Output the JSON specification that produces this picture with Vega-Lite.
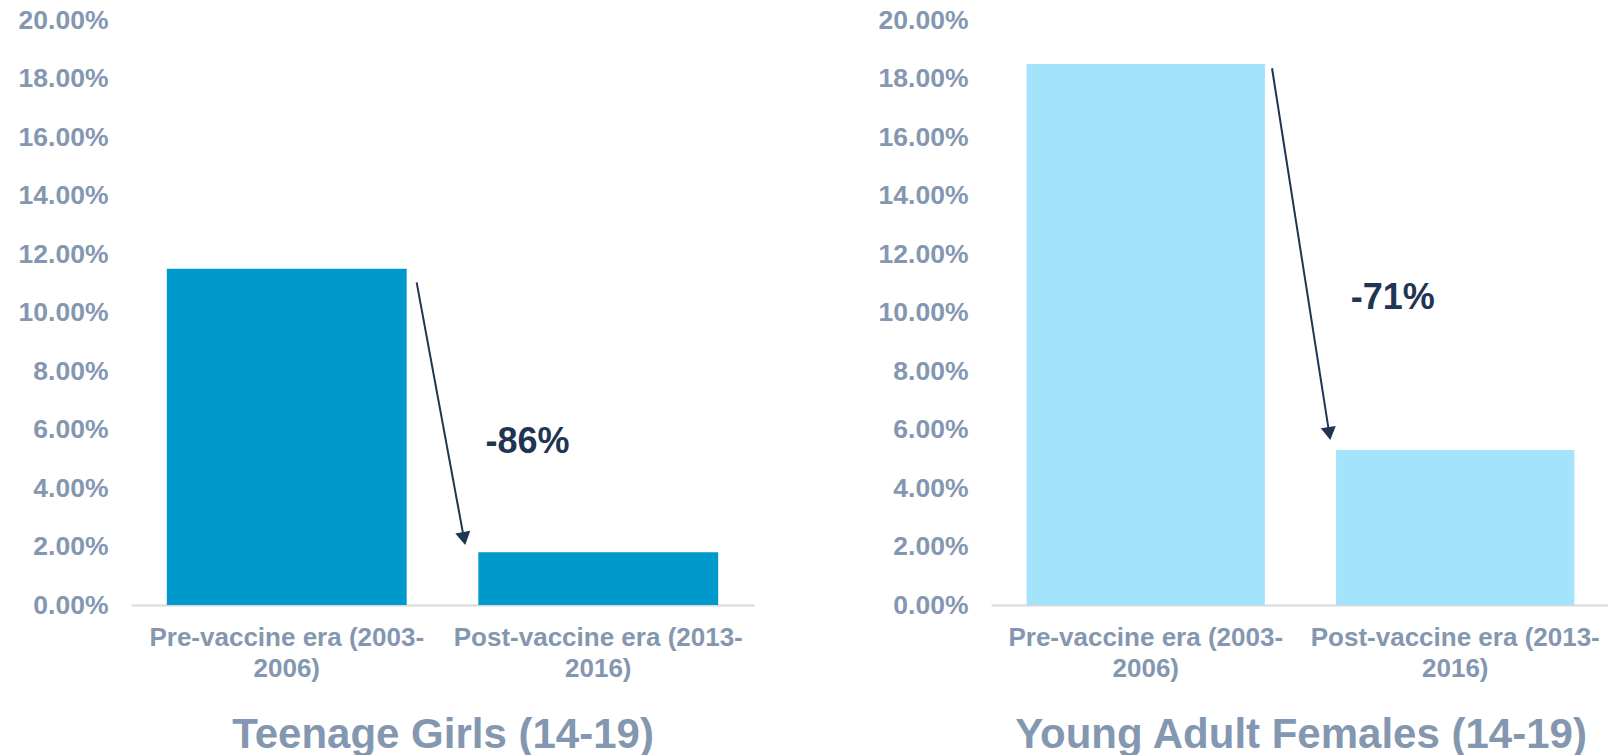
{
  "$schema": "https://vega.github.io/schema/vega-lite/v6.json",
  "padding": {"left": 18, "top": 7, "right": 0, "bottom": 0},
  "background": "white",
  "config": {
    "view": {"stroke": null},
    "font": "Liberation Sans",
    "concat": {"spacing": 124},
    "axis": {"grid": false, "ticks": false}
  },
  "datasets": {
    "bars": [
      {"group": "Teenage Girls (14-19)", "era": "Pre-vaccine era (2003-2006)", "rate": 0.115},
      {"group": "Teenage Girls (14-19)", "era": "Post-vaccine era (2013-2016)", "rate": 0.018},
      {"group": "Young Adult Females (14-19)", "era": "Pre-vaccine era (2003-2006)", "rate": 0.185},
      {"group": "Young Adult Females (14-19)", "era": "Post-vaccine era (2013-2016)", "rate": 0.053}
    ],
    "arrows": [
      {"group": "Teenage Girls (14-19)", "x0": 0.917, "y0": 0.1103, "x1": 1.069, "y1": 0.0227, "angle": -10.4},
      {"group": "Young Adult Females (14-19)", "x0": 0.908, "y0": 0.1835, "x1": 1.093, "y1": 0.0586, "angle": -8.9}
    ],
    "notes": [
      {"group": "Teenage Girls (14-19)", "x": 1.273, "y": 0.0556, "label": "-86%"},
      {"group": "Young Adult Females (14-19)", "x": 1.298, "y": 0.1051, "label": "-71%"}
    ]
  },
  "hconcat": [
    {
      "width": 623,
      "height": 585,
      "resolve": {"scale": {"x": "independent"}},
      "layer": [
        {
          "data": {"name": "bars"},
          "transform": [{"filter": "datum.group == 'Teenage Girls (14-19)'"}],
          "mark": {"type": "bar", "color": "#0099CC"},
          "encoding": {
            "x": {"field": "era", "type": "nominal", "sort": null,
              "scale": {"paddingInner": 0.23, "paddingOuter": 0.115},
              "axis": {"title": "Teenage Girls (14-19)", "titleFontSize": 42, "titleColor": "#8497B0", "titleFontWeight": "bold", "titlePadding": 33,
                "labelAngle": 0, "labelFontSize": 26, "labelColor": "#8497B0", "labelFontWeight": "bold", "labelPadding": 19, "labelLineHeight": 31, "labelLimit": 500,
                "labelExpr": "datum.value == 'Pre-vaccine era (2003-2006)' ? ['Pre-vaccine era (2003-', '2006)'] : ['Post-vaccine era (2013-', '2016)']",
                "domainColor": "#D9D9D9", "domainWidth": 2}},
            "y": {"field": "rate", "type": "quantitative",
              "scale": {"domain": [0, 0.2], "nice": false},
              "axis": {"title": null, "format": ".2%", "values": [0, 0.02, 0.04, 0.06, 0.08, 0.1, 0.12, 0.14, 0.16, 0.18, 0.2],
                "domain": false, "labelFontSize": 26.5, "labelColor": "#8497B0", "labelFontWeight": "bold", "labelPadding": 23}}
          }
        },
        {
          "data": {"name": "arrows"},
          "transform": [{"filter": "datum.group == 'Teenage Girls (14-19)'"}],
          "mark": {"type": "rule", "color": "#1F3552", "strokeWidth": 2},
          "encoding": {
            "x": {"field": "x0", "type": "quantitative", "scale": {"domain": [0, 2], "nice": false, "zero": false}, "axis": null},
            "x2": {"field": "x1"},
            "y": {"field": "y0", "type": "quantitative"},
            "y2": {"field": "y1"}
          }
        },
        {
          "data": {"name": "arrows"},
          "transform": [{"filter": "datum.group == 'Teenage Girls (14-19)'"}],
          "mark": {"type": "point", "shape": "triangle-down", "filled": true, "color": "#1F3552", "size": 230, "opacity": 1},
          "encoding": {
            "x": {"field": "x1", "type": "quantitative", "scale": {"domain": [0, 2], "nice": false, "zero": false}, "axis": null},
            "y": {"field": "y1", "type": "quantitative"},
            "angle": {"field": "angle", "type": "quantitative", "scale": null}
          }
        },
        {
          "data": {"name": "notes"},
          "transform": [{"filter": "datum.group == 'Teenage Girls (14-19)'"}],
          "mark": {"type": "text", "color": "#1F3552", "fontSize": 36, "fontWeight": "bold", "align": "center", "baseline": "middle"},
          "encoding": {
            "x": {"field": "x", "type": "quantitative", "scale": {"domain": [0, 2], "nice": false, "zero": false}, "axis": null},
            "y": {"field": "y", "type": "quantitative"},
            "text": {"field": "label"}
          }
        }
      ]
    },
    {
      "width": 619,
      "height": 585,
      "resolve": {"scale": {"x": "independent"}},
      "layer": [
        {
          "data": {"name": "bars"},
          "transform": [{"filter": "datum.group == 'Young Adult Females (14-19)'"}],
          "mark": {"type": "bar", "color": "#A3E3FC"},
          "encoding": {
            "x": {"field": "era", "type": "nominal", "sort": null,
              "scale": {"paddingInner": 0.23, "paddingOuter": 0.115},
              "axis": {"title": "Young Adult Females (14-19)", "titleFontSize": 42, "titleColor": "#8497B0", "titleFontWeight": "bold", "titlePadding": 33,
                "labelAngle": 0, "labelFontSize": 26, "labelColor": "#8497B0", "labelFontWeight": "bold", "labelPadding": 19, "labelLineHeight": 31, "labelLimit": 500,
                "labelExpr": "datum.value == 'Pre-vaccine era (2003-2006)' ? ['Pre-vaccine era (2003-', '2006)'] : ['Post-vaccine era (2013-', '2016)']",
                "domainColor": "#D9D9D9", "domainWidth": 2}},
            "y": {"field": "rate", "type": "quantitative",
              "scale": {"domain": [0, 0.2], "nice": false},
              "axis": {"title": null, "format": ".2%", "values": [0, 0.02, 0.04, 0.06, 0.08, 0.1, 0.12, 0.14, 0.16, 0.18, 0.2],
                "domain": false, "labelFontSize": 26.5, "labelColor": "#8497B0", "labelFontWeight": "bold", "labelPadding": 23}}
          }
        },
        {
          "data": {"name": "arrows"},
          "transform": [{"filter": "datum.group == 'Young Adult Females (14-19)'"}],
          "mark": {"type": "rule", "color": "#1F3552", "strokeWidth": 2},
          "encoding": {
            "x": {"field": "x0", "type": "quantitative", "scale": {"domain": [0, 2], "nice": false, "zero": false}, "axis": null},
            "x2": {"field": "x1"},
            "y": {"field": "y0", "type": "quantitative"},
            "y2": {"field": "y1"}
          }
        },
        {
          "data": {"name": "arrows"},
          "transform": [{"filter": "datum.group == 'Young Adult Females (14-19)'"}],
          "mark": {"type": "point", "shape": "triangle-down", "filled": true, "color": "#1F3552", "size": 230, "opacity": 1},
          "encoding": {
            "x": {"field": "x1", "type": "quantitative", "scale": {"domain": [0, 2], "nice": false, "zero": false}, "axis": null},
            "y": {"field": "y1", "type": "quantitative"},
            "angle": {"field": "angle", "type": "quantitative", "scale": null}
          }
        },
        {
          "data": {"name": "notes"},
          "transform": [{"filter": "datum.group == 'Young Adult Females (14-19)'"}],
          "mark": {"type": "text", "color": "#1F3552", "fontSize": 36, "fontWeight": "bold", "align": "center", "baseline": "middle"},
          "encoding": {
            "x": {"field": "x", "type": "quantitative", "scale": {"domain": [0, 2], "nice": false, "zero": false}, "axis": null},
            "y": {"field": "y", "type": "quantitative"},
            "text": {"field": "label"}
          }
        }
      ]
    }
  ]
}
